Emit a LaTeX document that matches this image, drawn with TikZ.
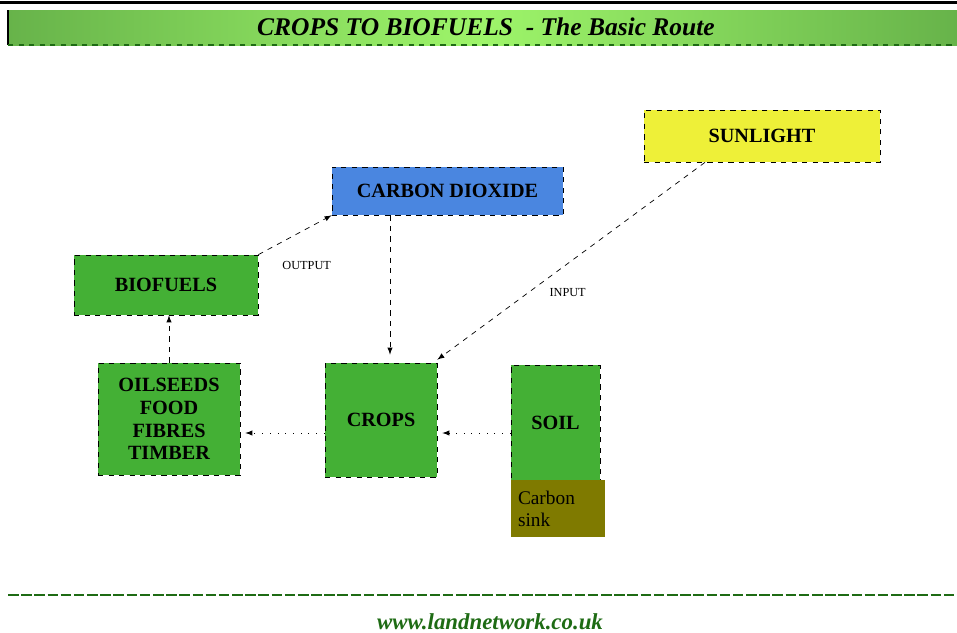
\documentclass[tikz,border=0pt]{standalone}
\usepackage{fontspec}
\setmainfont{Liberation Serif}
\usepackage{tikz}
\usetikzlibrary{positioning,arrows}

\definecolor{leafgreen}{HTML}{44B035}
\definecolor{skyblue}{HTML}{4A86E0}
\definecolor{sunyellow}{HTML}{EEF038}
\definecolor{olivesink}{HTML}{7F7A00}
\definecolor{darkleaf}{HTML}{1E6B14}
\definecolor{bannerdark}{HTML}{67B34A}
\definecolor{bannerlight}{HTML}{9EF56A}

\begin{document}
\begin{tikzpicture}[
stage/.style={
  draw,
  dashed,
  fill=leafgreen,
  align=center,
  font=\bfseries\fontsize{11.5}{13}\selectfont,
  inner sep=2pt
  },
flow/.style={
  ->,
  dashed,
  thin
  },
feed/.style={
  ->,
  loosely dotted,
  thin
  },
tag/.style={
  font=\fontsize{7}{8}\selectfont,
  anchor=north west,
  inner sep=1pt
  },
>=latex
]

\useasboundingbox (0,0) rectangle (19.14,-12.64);

\draw[line width=1.6pt] (0,-0.05) -- (19.14,-0.05);
\shade[left color=bannerdark, right color=bannerdark, middle color=bannerlight]
  (0.16,-0.2) rectangle (19.14,-0.9);
\draw[line width=0.8pt] (0.16,-0.2) -- (0.16,-0.9);
\draw[darkleaf, dashed, line width=0.8pt] (0.16,-0.9) -- (19.14,-0.9);
\node[font=\bfseries\itshape\fontsize{14.5}{16}\selectfont] (title) at (9.72,-0.54)
  {CROPS TO BIOFUELS\ \ - The Basic Route};

\node[stage, fill=skyblue, minimum width=4.62cm, minimum height=0.96cm] (co2) at (8.95,-3.82) {CARBON DIOXIDE};
\node[stage, fill=sunyellow, minimum width=4.72cm, minimum height=1.04cm] (sun) at (15.24,-2.72) {SUNLIGHT};
\node[stage, minimum width=3.68cm, minimum height=1.2cm] (bio) at (3.32,-5.70) {BIOFUELS};
\node[stage, minimum width=2.84cm, minimum height=2.24cm] (oil) at (3.38,-8.38) {OILSEEDS\\FOOD\\FIBRES\\TIMBER};
\node[stage, minimum width=2.24cm, minimum height=2.28cm] (crops) at (7.62,-8.40) {CROPS};
\node[stage, minimum width=1.78cm, minimum height=2.3cm] (soil) at (11.11,-8.45) {SOIL};
\node[fill=olivesink, minimum width=1.88cm, minimum height=1.14cm, align=left,
  font=\fontsize{11}{12.5}\selectfont, text width=1.6cm] (sink) at (11.16,-10.17) {Carbon\\sink};

\draw[flow] (bio.north east) -- node[tag, at start, xshift=0.44cm, yshift=-0.1cm] {OUTPUT} (co2.south west);
\draw[flow] ([xshift=0.18cm]crops.north |- co2.south) -- ([xshift=0.18cm,yshift=0.16cm]crops.north);
\draw[flow] ([xshift=-1.14cm]sun.south) -- node[tag, pos=0.6, xshift=0.06cm, yshift=-0.12cm] {INPUT} ([yshift=0.06cm]crops.north east);
\draw[flow] (oil.north) -- (oil.north |- bio.south);
\draw[feed] ([yshift=-0.26cm]crops.west) -- ([xshift=0.1cm,yshift=-0.26cm]crops.west -| oil.east);
\draw[feed] ([yshift=-0.26cm]crops.west -| soil.west) -- ([xshift=0.1cm,yshift=-0.26cm]crops.east);

\draw[darkleaf, dashed, dash pattern=on 6pt off 1.5pt, line width=1.2pt] (0.16,-11.9) -- (19.14,-11.9);
\node[darkleaf, font=\bfseries\itshape\fontsize{13}{15}\selectfont] (web) at (9.8,-12.44) {www.landnetwork.co.uk};
\end{tikzpicture}
\end{document}
